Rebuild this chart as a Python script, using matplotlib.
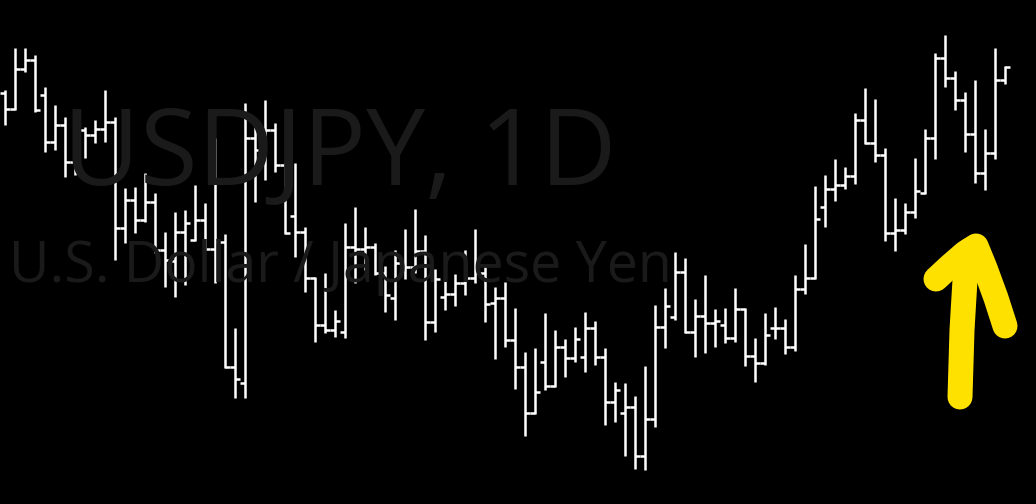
import numpy as np
import matplotlib.pyplot as plt

# USDJPY daily bars
opens = [155.35, 154.55, 156.54, 157.00, 155.25, 152.92, 153.75, 151.92, 153.50, 153.25,
         153.54, 153.92, 148.59, 150.00, 149.00, 149.92, 147.50, 146.95, 148.42, 148.00,
         149.00, 147.55, 147.92, 141.67, 140.84, 153.09, 152.50, 153.50, 151.75, 149.20,
         148.42, 146.09, 143.75, 143.50, 143.42, 147.67, 147.54, 147.64, 146.34, 145.09,
         146.84, 146.67, 147.45, 143.92, 145.17, 145.30, 145.84, 146.09, 146.34, 144.87,
         145.09, 143.00, 141.64, 139.37, 141.92, 140.70, 142.67, 142.09, 142.17, 143.59,
         142.17, 139.92, 139.34, 139.67, 137.20, 139.04, 143.64, 144.17, 146.42, 143.42,
         144.20, 143.84, 143.75, 143.09, 144.54, 142.20, 141.84, 143.59, 143.59, 142.64,
         145.54, 146.09, 149.64, 150.54, 150.75, 151.20, 154.00, 152.84, 152.25, 148.34,
         148.50, 149.42, 150.37, 153.09, 157.09, 156.09, 155.00, 153.30, 151.34, 152.37,
         156.00]
highs = [155.50, 157.59, 157.59, 157.25, 155.67, 154.75, 154.17, 154.00, 153.67, 154.00,
         155.50, 154.17, 150.59, 150.67, 151.34, 150.34, 148.42, 149.42, 149.50, 150.75,
         149.84, 153.09, 148.30, 143.59, 154.84, 153.92, 155.00, 153.87, 151.92, 151.84,
         148.67, 146.15, 146.37, 144.50, 148.84, 149.64, 148.64, 147.87, 146.70, 147.50,
         148.54, 149.54, 148.25, 146.54, 146.95, 146.30, 147.50, 148.54, 146.67, 145.67,
         145.92, 144.59, 142.42, 142.59, 144.37, 143.50, 143.04, 143.64, 144.42, 143.97,
         142.59, 140.92, 140.87, 140.20, 141.70, 144.75, 145.59, 147.42, 147.09, 145.04,
         146.25, 144.54, 144.62, 145.59, 144.60, 143.09, 144.37, 144.67, 144.04, 146.25,
         147.80, 150.70, 151.25, 152.04, 151.67, 154.37, 155.59, 155.04, 152.59, 150.09,
         149.84, 152.09, 153.54, 157.37, 158.25, 156.47, 155.42, 156.00, 153.54, 157.59,
         156.70]
lows = [153.75, 154.50, 156.42, 154.42, 152.42, 152.50, 151.17, 151.25, 152.09, 152.84,
        152.92, 147.00, 147.84, 148.34, 148.92, 147.34, 145.67, 145.17, 145.75, 147.95,
        147.50, 145.87, 141.60, 140.09, 140.09, 149.92, 151.00, 151.42, 148.30, 147.17,
        145.42, 142.92, 143.34, 143.17, 143.09, 145.87, 146.50, 146.25, 144.42, 144.00,
        146.04, 146.34, 143.00, 143.42, 144.50, 144.70, 145.25, 145.84, 143.92, 142.04,
        142.67, 140.54, 138.20, 139.30, 140.50, 140.65, 141.14, 141.92, 141.42, 141.75,
        138.75, 138.92, 137.20, 136.54, 136.50, 138.67, 142.59, 144.00, 143.34, 142.14,
        142.34, 142.67, 142.84, 142.92, 141.70, 140.92, 141.75, 143.04, 142.30, 142.47,
        145.30, 146.04, 148.64, 149.97, 150.54, 150.80, 152.80, 151.92, 147.97, 147.47,
        148.30, 149.09, 150.30, 152.04, 155.64, 154.50, 152.42, 150.87, 150.50, 152.04,
        155.80]
closes = [154.55, 156.54, 157.00, 154.50, 152.92, 153.75, 151.92, 153.50, 153.25, 153.54,
          153.92, 148.59, 150.00, 149.00, 149.92, 147.50, 147.00, 148.42, 148.87, 149.00,
          147.55, 147.92, 141.67, 141.04, 153.09, 152.50, 153.50, 151.75, 148.34, 148.42,
          146.09, 143.75, 143.50, 143.97, 147.67, 147.54, 147.64, 146.34, 145.25, 146.84,
          146.67, 147.45, 143.92, 146.04, 145.30, 145.84, 146.09, 146.34, 144.80, 145.09,
          143.00, 141.64, 139.37, 140.42, 140.70, 142.67, 142.09, 143.04, 143.59, 142.17,
          139.92, 140.50, 139.67, 137.20, 139.04, 143.64, 144.70, 146.42, 143.42, 144.20,
          143.84, 143.97, 143.09, 144.54, 142.20, 141.84, 143.25, 143.59, 142.64, 145.54,
          146.09, 149.04, 150.54, 150.75, 151.20, 154.00, 152.87, 152.25, 148.34, 148.50,
          149.42, 150.47, 153.09, 157.09, 156.09, 155.00, 153.30, 151.34, 152.37, 156.00,
          156.64]

symbol = 'USDJPY, 1D'
description = 'U.S. Dollar / Japanese Yen'

W, H = 1036, 504
fig = plt.figure(figsize=(W / 100, H / 100), dpi=100, facecolor='black')

# watermark behind the bars
wm = '#1a1a1a'
fig.text(340 / W, 1 - 185 / H, symbol, color=wm, family='Open Sans',
         fontsize=76, ha='center', va='baseline')
fig.text(340 / W, 1 - 282 / H, description, color=wm, family='Open Sans',
         fontsize=40, ha='center', va='baseline')

ax = fig.add_axes([0, 0, 1, 1])
ax.set_facecolor('none')
x = np.arange(len(opens))
bar_col = 'white'
ax.vlines(x, lows, highs, color=bar_col, lw=1.8)
ax.hlines(opens, x - 0.5, x, color=bar_col, lw=1.8)
ax.hlines(closes, x, x + 0.5, color=bar_col, lw=1.8)
ax.set_xlim(-0.5, 103.1)
ax.set_ylim(134.8, 160)
ax.axis('off')

# hand drawn yellow arrow on top (pixel coords)
ov = fig.add_axes([0, 0, 1, 1])
ov.set_xlim(0, W)
ov.set_ylim(H, 0)
ov.axis('off')
ov.patch.set_alpha(0)
yel = '#FFE100'
ov.plot([960, 962, 965, 970], [397, 330, 280, 250], color=yel, lw=18,
        solid_capstyle='round', solid_joinstyle='round')
ov.plot([936, 950, 965, 976, 985, 996, 1005], [279, 266, 253, 246, 268, 298, 326],
        color=yel, lw=18, solid_capstyle='round', solid_joinstyle='round')

plt.savefig('out.png', dpi=100, facecolor='black')
